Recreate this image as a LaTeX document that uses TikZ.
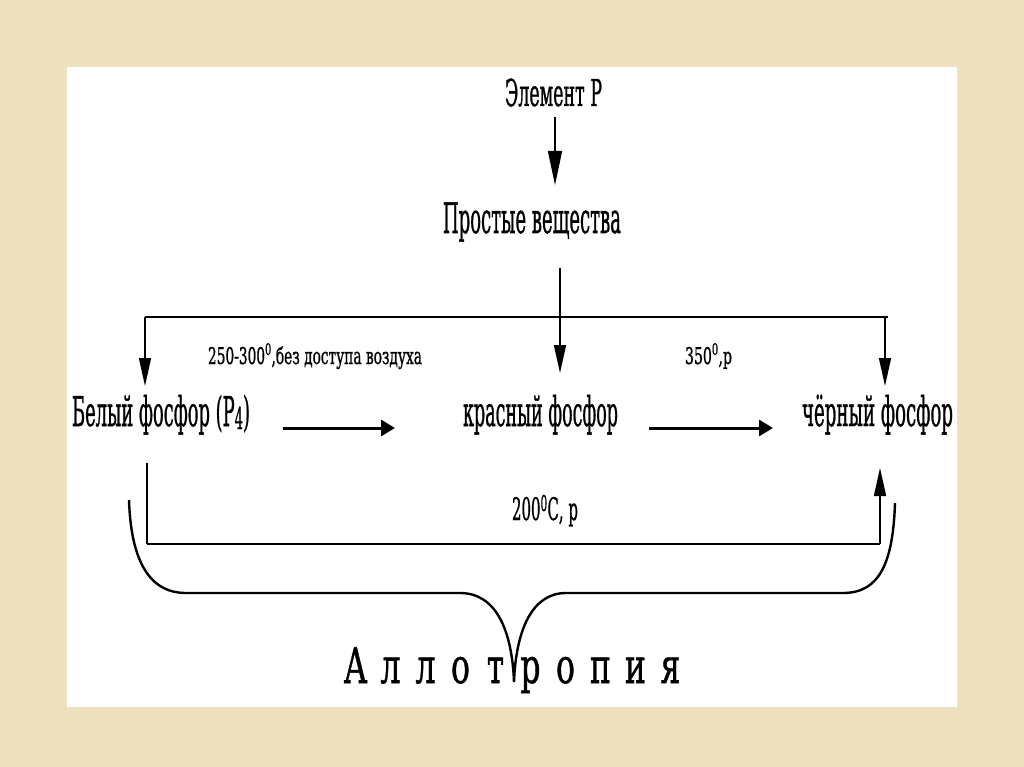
\documentclass[tikz,border=0pt]{standalone}
\usepackage{fontspec}
\usepackage{graphicx}
\setmainfont[FakeBold=1.2]{DejaVu Serif}
\usetikzlibrary{arrows.meta}
\definecolor{bgbeige}{RGB}{236,224,190}
\newcommand\fitw[2]{\resizebox{#1}{\height}{#2}}
\newcommand\ltr[1]{\makebox[35pt]{\scalebox{0.64}[1]{#1}}}
\newcommand\lowfour{\raisebox{-3pt}{\fontsize{30}{30}\selectfont 4}}
\begin{document}
\begin{tikzpicture}[x=1pt,y=-1pt,
  txt/.style={inner sep=0pt,anchor=base},
  lbl/.style={txt,font=\fontsize{41}{43}\selectfont},
  big/.style={txt,font=\fontsize{42}{44}\selectfont},
  mid/.style={txt,font=\fontsize{37}{39}\selectfont},
  cond/.style={txt,font=\fontsize{23}{25}\selectfont},
  condb/.style={txt,font=\fontsize{31}{33}\selectfont},
  allo/.style={txt,font=\fontsize{49}{51}\selectfont},
  vline/.style={line width=1.5pt},
  hline/.style={line width=2.6pt},
  vtip/.style={vline,-{Triangle[length=28pt,width=12pt]}},
  harrow/.style={line width=3pt,-{Triangle[length=14pt,width=16pt]}}]
\useasboundingbox (0,0) rectangle (1024,767);
\fill[bgbeige] (0,0) rectangle (1024,767);
\fill[white] (67,67) rectangle (957,707);

% nodes
\node[mid] (elem) at (553.5,106) {\fitw{97pt}{Элемент Р}};
\node[big] (simple) at (532,233) {\fitw{178pt}{Простые вещества}};
\node[lbl] (white) at (161,426) {\fitw{178pt}{Белый фосфор (Р\lowfour)}};
\node[lbl] (red) at (540.5,426) {\fitw{155pt}{красный фосфор}};
\node[lbl] (black) at (877.5,426) {\fitw{151pt}{чёрный фосфор}};
\node[cond] (c1) at (315,364) {\fitw{214pt}{250-300\textsuperscript{0},без доступа воздуха}};
\node[cond] (c2) at (708.5,364) {\fitw{47pt}{350\textsuperscript{0},р}};
\node[condb] (c3) at (545,520) {\fitw{66pt}{200\textsuperscript{0}С, р}};
\node[allo] (allot) at (513,683) {\ltr{А}\ltr{л}\ltr{л}\ltr{о}\ltr{т}\ltr{р}\ltr{о}\ltr{п}\ltr{и}\ltr{я}};

% coordinates
\coordinate (e0) at (555,117);
\coordinate (e1) at (555,185);
\coordinate (s0) at (560,268);
\coordinate (s1) at (560,373);
\coordinate (tl) at (145,317);
\coordinate (tr) at (888,317);
\coordinate (wt) at (145,386);
\coordinate (bt) at (885,386);
\coordinate (a1s) at (283,428);
\coordinate (a1e) at (395,428);
\coordinate (a2s) at (649,428);
\coordinate (a2e) at (773,428);
\coordinate (bl0) at (147,463);
\coordinate (bl1) at (147,544);
\coordinate (br1) at (880,544);
\coordinate (br0) at (880,468);

% connectors
\draw[vline,-{Triangle[length=34pt,width=14pt]}] (e0) -- (e1);
\draw[hline] (tl) -- (tr);
\draw[vtip] (s0) -- (s1);
\draw[vtip] (tl) -- (wt);
\draw[vtip] (tr -| bt) -- (bt);
\draw[harrow] (a1s) -- (a1e);
\draw[harrow] (a2s) -- (a2e);
\draw[vline] (bl0) -- (bl1);
\draw[hline] (bl1) -- (br1);
\draw[vtip] (br1) -- (br0);

% brace
\draw[line width=2.4pt]
  (129,500) .. controls (131,562) and (150,593) .. (186,593)
  -- (460,593) .. controls (496,593) and (512,630) .. (514,682)
  .. controls (516,630) and (532,593) .. (566,593)
  -- (843,593) .. controls (880,593) and (893,562) .. (895,503);
\end{tikzpicture}
\end{document}
